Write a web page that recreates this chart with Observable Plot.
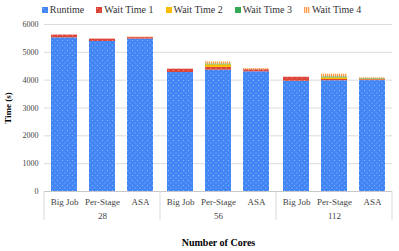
<!DOCTYPE html>
<html>
<head>
<meta charset="utf-8">
<script src="https://cdn.jsdelivr.net/npm/d3@7"></script>
<script src="https://cdn.jsdelivr.net/npm/@observablehq/plot@0.6"></script>
<style>
  html, body { margin: 0; padding: 0; background: #fff; }
  #legend { height: 19px; display: flex; justify-content: center; align-items: center; gap: 12px;
            font-family: "Liberation Serif", "Times New Roman", "DejaVu Serif", serif; font-size: 10px; color: #333; padding-left: 4px; }
  #legend .item { display: flex; align-items: center; gap: 2px; }
  #legend svg { display: block; }
  #chart svg, #chart svg text { font-family: "Liberation Serif", "Times New Roman", "DejaVu Serif", serif !important; }
  g[aria-label="y-axis label"], g[aria-label="fx-axis label"] { font-weight: bold; fill: #000; }
  g[aria-label="y-axis label"] { font-size: 9px; }
  g[aria-label="fx-axis label"] { font-size: 10px; }
</style>
</head>
<body>
<svg width="0" height="0" style="position:absolute">
  <defs>
    <pattern id="p-run" width="5" height="5" patternUnits="userSpaceOnUse">
      <rect width="5" height="5" fill="#4285F4"></rect>
      <rect x="1" y="1" width="1" height="1" fill="#8fb6f9"></rect>
      <rect x="3.5" y="3.5" width="1" height="1" fill="#8fb6f9"></rect>
    </pattern>
    <pattern id="p-w1" width="5" height="5" patternUnits="userSpaceOnUse">
      <rect width="5" height="5" fill="#DB4437"></rect>
      <rect x="1" y="1" width="1" height="1" fill="#ee8f86"></rect>
      <rect x="3.5" y="3.5" width="1" height="1" fill="#ee8f86"></rect>
    </pattern>
    <pattern id="p-w4" width="2" height="2" patternUnits="userSpaceOnUse">
      <rect width="2" height="2" fill="#ffe0c4"></rect>
      <rect width="1" height="2" fill="#FF9A48"></rect>
    </pattern>
  </defs>
</svg>
<div id="legend"></div>
<div id="chart"></div>
<script>
const cores = ["28", "56", "112"];
const methods = ["Big Job", "Per-Stage", "ASA"];
const series = ["Runtime", "Wait Time 1", "Wait Time 2", "Wait Time 3", "Wait Time 4"];
const runtime = [5520, 5390, 5475, 4275, 4360, 4300, 3960, 3980, 3985];
const wait1   = [100,   85,   55,  120,   97,   75,  145,   45,   30];
const wait2   = [0,      0,    0,    0,   95,    0,    0,   60,   20];
const wait3   = [0,      0,    0,    0,   30,    0,    0,   35,   20];
const wait4   = [0,      0,   20,    0,   75,   40,    0,   95,   30];
const yTicks = [0, 1000, 2000, 3000, 4000, 5000, 6000];
const fills = ["url(#p-run)", "url(#p-w1)", "#FBBC04", "#34A853", "url(#p-w4)"];

const seriesValues = [runtime, wait1, wait2, wait3, wait4];
const data = [];
series.forEach((s, k) => {
  seriesValues[k].forEach((v, i) => {
    data.push({cores: cores[Math.floor(i / 3)], method: methods[i % 3], series: s, value: v});
  });
});

// legend
const legend = document.getElementById("legend");
series.forEach((s, k) => {
  const item = document.createElement("div");
  item.className = "item";
  item.innerHTML = `<svg width="6" height="6"><rect width="6" height="6" fill="${fills[k]}"></rect></svg><span>${s}</span>`;
  legend.appendChild(item);
});

const chart = Plot.plot({
  width: 399,
  height: 232,
  marginTop: 5,
  marginBottom: 60,
  marginLeft: 43,
  marginRight: 7,
  style: {fontSize: "9px", color: "#444", background: "white"},
  fx: {domain: cores, padding: 0},
  x: {domain: methods, paddingInner: 0.31, paddingOuter: 0.165},
  y: {domain: [0, 6000]},
  color: {domain: series, range: fills},
  marks: [
    Plot.gridY(yTicks, {stroke: "#dcdcdc", strokeOpacity: 1}),
    Plot.barY(data, {fx: "cores", x: "method", y: "value", fill: "series"}),
    Plot.ruleY([0], {stroke: "#c8c8c8"}),
    Plot.axisY(yTicks, {tickSize: 0, tickPadding: 6, fontSize: 8, tickFormat: d => String(d), label: "Time (s)", labelAnchor: "center", labelArrow: false, labelOffset: 40}),
    Plot.axisX({tickSize: 0, tickPadding: 7, label: null}),
    Plot.axisFx({anchor: "bottom", tickSize: 0, tickPadding: 21, label: "Number of Cores", labelAnchor: "center", labelArrow: false, labelOffset: 54})
  ]
});
document.getElementById("chart").appendChild(chart);

// group separators below the baseline, positioned with the plot's own scales
const fx = chart.scale("fx");
const y = chart.scale("y");
const y0 = y.apply(0);
const edges = cores.map(c => fx.apply(c)).concat([fx.apply(cores[cores.length - 1]) + fx.bandwidth]);
d3.select(chart).append("g").attr("aria-label", "separators")
  .selectAll("line").data(edges).join("line")
  .attr("x1", d => d).attr("x2", d => d)
  .attr("y1", y0).attr("y2", y0 + 29)
  .attr("stroke", "#d9d9d9");
</script>
</body>
</html>
